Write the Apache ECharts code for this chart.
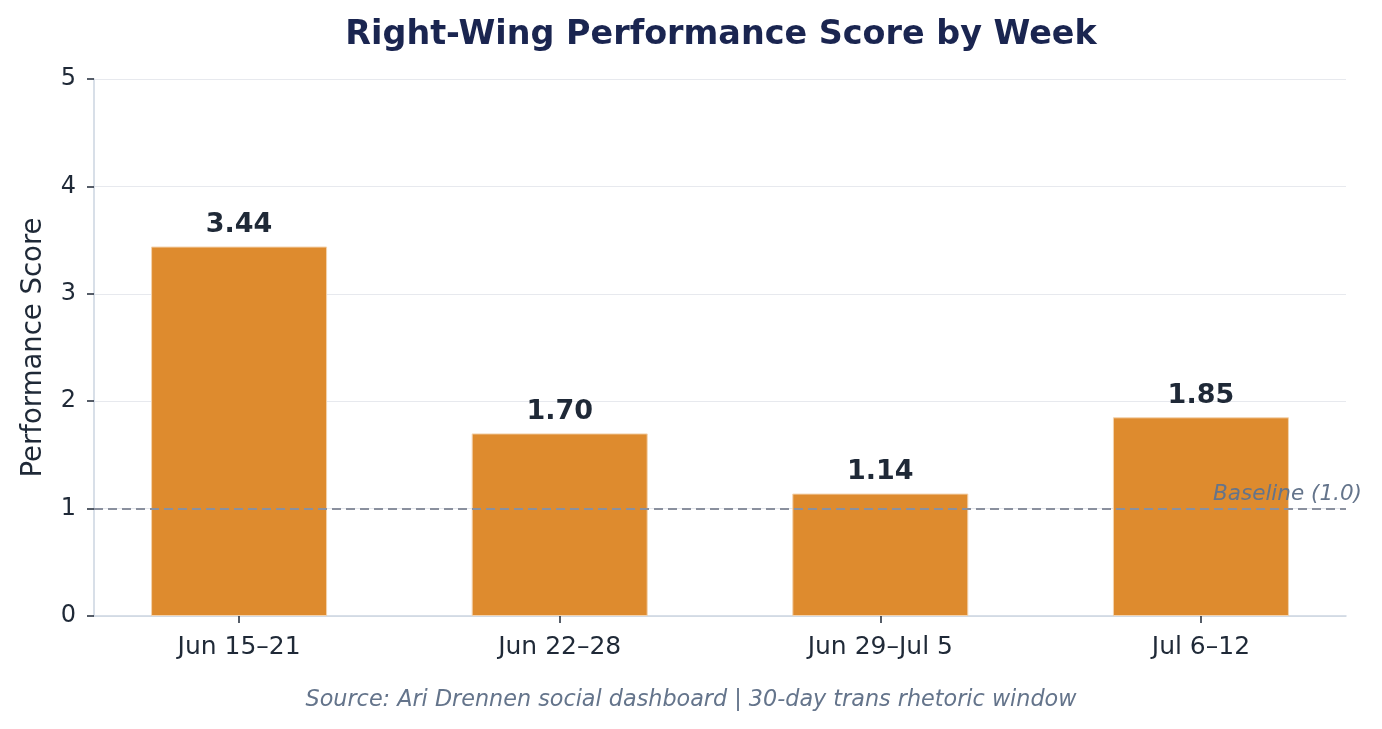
<!DOCTYPE html>
<html>
<head>
<meta charset="utf-8">
<script src="https://cdn.jsdelivr.net/npm/echarts@6/dist/echarts.min.js"></script>
<style>
  html, body { margin: 0; padding: 0; background: #ffffff; }
  #chart { width: 1382px; height: 729px; }
</style>
</head>
<body>
<div id="chart"></div>
<script>
    // weekly data
    var weeks = ["Jun 15–21", "Jun 22–28", "Jun 29–Jul 5", "Jul 6–12"];
    var scores = [3.44, 1.70, 1.14, 1.85];
    var yTicks = [0, 1, 2, 3, 4, 5];
    var baseline = 1.0;

    var font = "DejaVu Sans";
    var positions = weeks.map(function (w, i) { return i; });
    var barData = scores.map(function (v, i) { return [i, v]; });

    var myChart = echarts.init(document.getElementById('chart'));
    var option = {
        backgroundColor: '#ffffff',
        animation: false,
        title: [{
            text: 'Right-Wing Performance Score by Week',
            left: 716,
            textAlign: 'center',
            top: 14,
            textStyle: {fontFamily: font, fontSize: 33.4, fontWeight: 'bold', color: '#1a2550'}
        }, {
            text: 'Source: Ari Drennen social dashboard | 30-day trans rhetoric window',
            left: 'center',
            top: 684,
            textStyle: {fontFamily: font, fontSize: 22.3, fontStyle: 'italic', fontWeight: 'normal', color: '#64748b'}
        }],
        grid: {
            left: 94,
            right: 36,
            top: 79,
            bottom: 113
        },
        xAxis: {
            type: 'value',
            // matplotlib-like padding around the bars
            min: -0.4525,
            max: positions.length - 1 + 0.4525,
            splitLine: {show: false},
            axisLine: {show: true, onZero: false, lineStyle: {color: '#cbd5e1', width: 1.5}},
            axisTick: {show: true, length: 7, customValues: positions, lineStyle: {color: '#1f2937', width: 1.5}},
            axisLabel: {
                fontFamily: font, fontSize: 25, color: '#1f2937', margin: 19,
                customValues: positions,
                formatter: function (v) { return weeks[Math.round(v)]; }
            }
        },
        yAxis: {
            type: 'value',
            min: yTicks[0],
            max: yTicks[yTicks.length - 1],
            interval: 1,
            name: 'Performance Score',
            nameLocation: 'middle',
            nameGap: 46,
            nameTextStyle: {fontFamily: font, fontSize: 27.5, color: '#1f2937'},
            axisLine: {show: true, onZero: false, lineStyle: {color: '#cbd5e1', width: 1.5}},
            axisTick: {show: true, length: 7, lineStyle: {color: '#1f2937', width: 1.5}},
            axisLabel: {fontFamily: font, fontSize: 24, color: '#1f2937', margin: 18, padding: [6, 0, 0, 0]},
            splitLine: {lineStyle: {color: '#e7e9ee', width: 1}}
        },
        series: [{
            type: 'bar',
            data: barData,
            barWidth: 176,
            itemStyle: {color: '#de8b2e', borderColor: '#f3d3ae', borderWidth: 1},
            label: {
                show: true,
                position: 'top',
                distance: 8,
                fontFamily: font,
                fontSize: 27,
                fontWeight: 'bold',
                color: '#1f2937',
                formatter: function (p) { return p.value[1].toFixed(2); }
            },
            markLine: {
                silent: true,
                symbol: 'none',
                lineStyle: {type: [9, 5], color: '#8a909e', width: 2},
                label: {
                    show: true,
                    position: 'insideEndTop',
                    offset: [21, 2],
                    formatter: 'Baseline (1.0)',
                    fontFamily: font,
                    fontSize: 21.5,
                    fontStyle: 'italic',
                    color: '#64748b'
                },
                data: [{yAxis: baseline}]
            }
        }]
    };
    myChart.setOption(option);
</script>
</body>
</html>
